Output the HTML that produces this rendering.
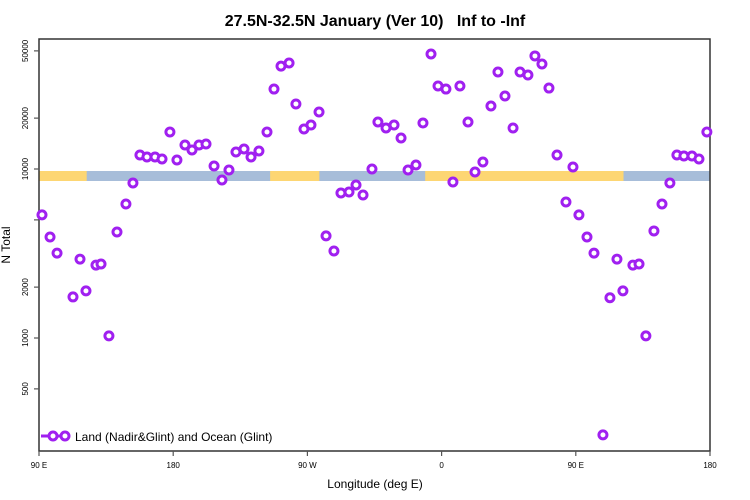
<!DOCTYPE html>
<html><head><meta charset="utf-8"><style>
body{margin:0;background:#fff;}
svg{display:block;font-family:"Liberation Sans",sans-serif;}
</style></head><body>
<svg id="chart" width="750" height="500">
<text x="375" y="26" text-anchor="middle" font-size="16" font-weight="bold" style="white-space:pre" xml:space="preserve">27.5N-32.5N January (Ver 10)   Inf to -Inf</text>
<g id="band"></g>
<g id="axes"></g>
<g id="pts"></g>
<text x="375" y="488" text-anchor="middle" font-size="12">Longitude (deg E)</text>
<text transform="translate(10,245) rotate(-90)" text-anchor="middle" font-size="12">N Total</text>
<g>
<line x1="41" y1="436" x2="65" y2="436" stroke="#a020f0" stroke-width="3"/>
<circle cx="53" cy="436" r="4" fill="#fff" stroke="#a020f0" stroke-width="3"/>
<circle cx="65" cy="436" r="4" fill="#fff" stroke="#a020f0" stroke-width="3"/>
<text x="75" y="441" font-size="12">Land (Nadir&amp;Glint) and Ocean (Glint)</text>
</g>
</svg>
<script>
const lons=[92.0,97.4,102.1,112.8,117.5,121.5,128.2,131.6,136.9,142.3,148.3,153.0,157.7,162.4,167.8,172.5,177.8,182.5,187.9,192.6,197.3,202.0,207.4,212.7,217.4,222.1,227.5,232.2,237.5,242.9,247.6,252.3,257.7,262.3,267.7,272.4,277.8,282.5,287.8,292.5,297.9,302.6,307.3,313.3,317.3,322.7,328.1,332.8,337.5,342.8,347.5,352.9,357.6,362.9,367.6,372.3,377.7,382.4,387.7,393.1,397.8,402.5,407.9,412.6,417.9,422.6,427.3,432.0,437.4,443.4,448.1,452.1,457.5,462.2,468.2,472.9,477.6,481.6,488.3,492.4,497.0,502.4,507.8,513.1,517.8,522.5,527.9,532.6,537.9];
const values=[5350,3960,3180,1750,2930,1900,2700,2740,1030,4240,6210,8260,12100,11780,11780,11460,16560,11300,13870,12950,13870,14060,10420,8610,9860,12610,13130,11780,12780,16560,29720,40640,42360,24260,17250,18200,21740,4020,3270,7210,7310,8040,7020,10000,18970,17490,18200,15250,9860,10560,18710,47900,30970,29720,8380,30970,18970,9600,11000,23600,37500,27040,17490,37500,35970,46660,41800,30130,12100,6380,10280,5350,3960,3180,267,1730,2930,1900,2700,2740,1030,4300,6210,8260,12100,11940,11940,11460,16560];
const yTicks=[500,1000,2000,5000,10000,20000,50000];
const yTickLabels=["500","1000","2000","","10000","20000","50000"];
const xTicks=[90,180,270,360,450,540];
const xTickLabels=["90 E","180","90 W","0","90 E","180"];
const landStart=[90,245,349];
const landEnd=[122,278,482];
const L=39,R=710,T=39,B=451;
const xs=v=>L+(v-90)/450*(R-L);
const ys=v=>169-(Math.log10(v)-4)*169;
const NS="http://www.w3.org/2000/svg";
function mk(t,a,p){const e=document.createElementNS(NS,t);for(const k in a)e.setAttribute(k,a[k]);p.appendChild(e);return e;}
const band=document.getElementById('band');
let r=mk('rect',{x:L,y:171,width:R-L,height:10,fill:'#a7bdd9'},band);


for(let i=0;i<landStart.length;i++){
 const b=mk('rect',{x:xs(landStart[i]),y:171,width:xs(landEnd[i])-xs(landStart[i]),height:10,fill:'#fdd673'},band);
 
 
}
const ax=document.getElementById('axes');
mk('rect',{x:L,y:T,width:R-L,height:B-T,fill:'none',stroke:'#333','stroke-width':1.5},ax);
yTicks.forEach((v,i)=>{
 const y=ys(v);
 mk('line',{x1:L-5,x2:L,y1:y,y2:y,stroke:'#555','stroke-width':1.2},ax);
 if(yTickLabels[i]){const t=mk('text',{transform:`translate(28,${y}) rotate(-90)`,'text-anchor':'middle','font-size':8},ax);t.textContent=yTickLabels[i];
 
 }
});
xTicks.forEach((v,i)=>{
 const x=xs(v);
 mk('line',{x1:x,x2:x,y1:B,y2:B+5,stroke:'#555','stroke-width':1.2},ax);
 const t=mk('text',{x:x,y:468,'text-anchor':'middle','font-size':8},ax);t.textContent=xTickLabels[i];
 
 
});
const pts=document.getElementById('pts');
lons.forEach((lo,i)=>{
 const c=mk('circle',{cx:xs(lo),cy:ys(values[i]),r:4,fill:'#fff',stroke:'#a020f0','stroke-width':3},pts);
 
 
});
</script>
</body></html>
